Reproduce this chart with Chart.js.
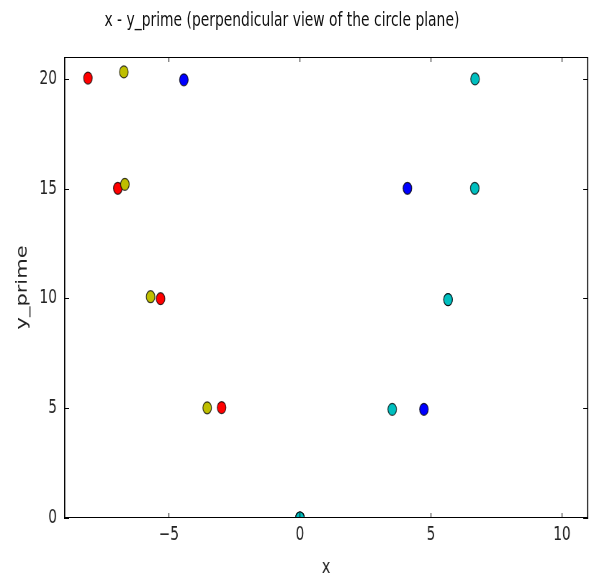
<!DOCTYPE html>
<html lang="en">
<head>
    <meta charset="UTF-8">
    <title>x - y_prime</title>
    <style>
        html, body { margin: 0; background: #fff; overflow: hidden; }
        /* the reference is a horizontally squeezed figure, so draw wide and squeeze */
        #wrap {
            position: relative; width: 818px; height: 582px;
            transform: scaleX(0.72); transform-origin: 0 0;
        }
        #title {
            position: absolute; left: 0; top: 8px; width: 783px;
            text-align: center; font-family: "DejaVu Sans", sans-serif;
            font-size: 19.3px; line-height: 23px; color: #111;
        }
        #circleChart { display: block; }
    </style>
</head>
<body>
    <div id="wrap">
        <div id="title">x - y_prime (perpendicular view of the circle plane)</div>
        <canvas id="circleChart" width="818" height="582"></canvas>
    </div>

    <script src="https://cdn.jsdelivr.net/npm/chart.js"></script>
    <script>
        // points, one series per colour
        const redX = [0, -2.99, -5.32, -6.95, -8.09];
        const redY = [0, 5.03, 9.99, 15.02, 20.04];
        const yellowX = [0, -3.54, -5.70, -6.68, -6.72];
        const yellowY = [0, 5.02, 10.08, 15.2, 20.32];
        const blueX = [0, 4.73, 5.65, 4.10, -4.43];
        const blueY = [0, 4.95, 9.95, 15.02, 19.96];
        const cyanX = [0, 3.52, 5.65, 6.67, 6.68];
        const cyanY = [0, 4.95, 9.95, 15.02, 20.0];

        const xTicks = [-5, 0, 5, 10];
        const yTicks = [0, 5, 10, 15, 20];

        const toPts = (xs, ys) => xs.map((x, i) => ({ x: x, y: ys[i] }));

        function series(label, xs, ys, color, order) {
            return {
                label: label,
                data: toPts(xs, ys),
                backgroundColor: color,
                borderColor: 'rgba(0,0,0,0.75)',
                borderWidth: 1.2,
                pointRadius: 6,
                pointHoverRadius: 6,
                order: order
            };
        }

        // frame + inward tick marks (old matplotlib look)
        const frameTicks = {
            id: 'frameTicks',
            afterDraw(chart) {
                const { ctx, chartArea: a, scales } = chart;
                ctx.save();
                ctx.strokeStyle = '#000';
                ctx.lineWidth = 1;
                ctx.beginPath();
                ctx.moveTo(a.left, a.top + 0.5); ctx.lineTo(a.right, a.top + 0.5);
                ctx.moveTo(a.left, a.bottom - 0.5); ctx.lineTo(a.right, a.bottom - 0.5);
                xTicks.forEach(v => {
                    const px = scales.x.getPixelForValue(v);
                    ctx.moveTo(px, a.top); ctx.lineTo(px, a.top + 5);
                    ctx.moveTo(px, a.bottom); ctx.lineTo(px, a.bottom - 5);
                });
                ctx.stroke();
                ctx.lineWidth = 1.6;
                ctx.beginPath();
                ctx.moveTo(a.left + 0.8, a.top); ctx.lineTo(a.left + 0.8, a.bottom);
                ctx.moveTo(a.right - 0.8, a.top); ctx.lineTo(a.right - 0.8, a.bottom);
                ctx.stroke();
                ctx.lineWidth = 1;
                ctx.beginPath();
                yTicks.forEach(v => {
                    const py = Math.round(scales.y.getPixelForValue(v)) + 0.5;
                    ctx.moveTo(a.left, py); ctx.lineTo(a.left + 7, py);
                    ctx.moveTo(a.right, py); ctx.lineTo(a.right - 7, py);
                });
                ctx.stroke();
                ctx.restore();
            }
        };

        const fontFam = '"DejaVu Sans", sans-serif';
        const tickFont = { family: fontFam, size: 19 };

        new Chart(document.getElementById('circleChart'), {
            type: 'scatter',
            data: {
                datasets: [
                    series('red', redX, redY, '#ff0000', 3),
                    series('yellow', yellowX, yellowY, '#bfbf00', 2),
                    series('blue', blueX, blueY, '#0000ff', 1),
                    series('cyan', cyanX, cyanY, '#00bfbf', 0)
                ]
            },
            options: {
                responsive: false,
                animation: false,
                layout: { autoPadding: false, padding: { left: 15, right: 1, top: 57, bottom: 0 } },
                plugins: {
                    legend: { display: false },
                    tooltip: { enabled: false },
                    title: { display: false }
                },
                scales: {
                    x: {
                        type: 'linear',
                        min: -9,
                        max: 11,
                        afterBuildTicks: s => { s.ticks = xTicks.map(v => ({ value: v })); },
                        afterFit: s => { s.height = 64; s.paddingLeft = 0; s.paddingRight = 0; },
                        grid: { display: false, drawTicks: false },
                        border: { display: false },
                        ticks: {
                            padding: 6,
                            color: '#222',
                            font: tickFont,
                            callback: v => (v < 0 ? '\u2212' + Math.abs(v) : String(v))
                        },
                        title: { display: true, text: 'x', color: '#222', font: { family: fontFam, size: 20 }, padding: { top: 4, bottom: 2 } }
                    },
                    y: {
                        type: 'linear',
                        min: 0,
                        max: 21,
                        afterBuildTicks: s => { s.ticks = yTicks.map(v => ({ value: v })); },
                        afterFit: s => { s.width = 74; s.paddingTop = 0; s.paddingBottom = 0; },
                        grid: { display: false, drawTicks: false },
                        border: { display: false },
                        ticks: { padding: 10, color: '#222', font: tickFont },
                        title: { display: true, text: 'y_prime', color: '#222', font: { family: fontFam, size: 21 }, padding: { top: 4, bottom: 4 } }
                    }
                }
            },
            plugins: [frameTicks]
        });
    </script>
</body>
</html>
